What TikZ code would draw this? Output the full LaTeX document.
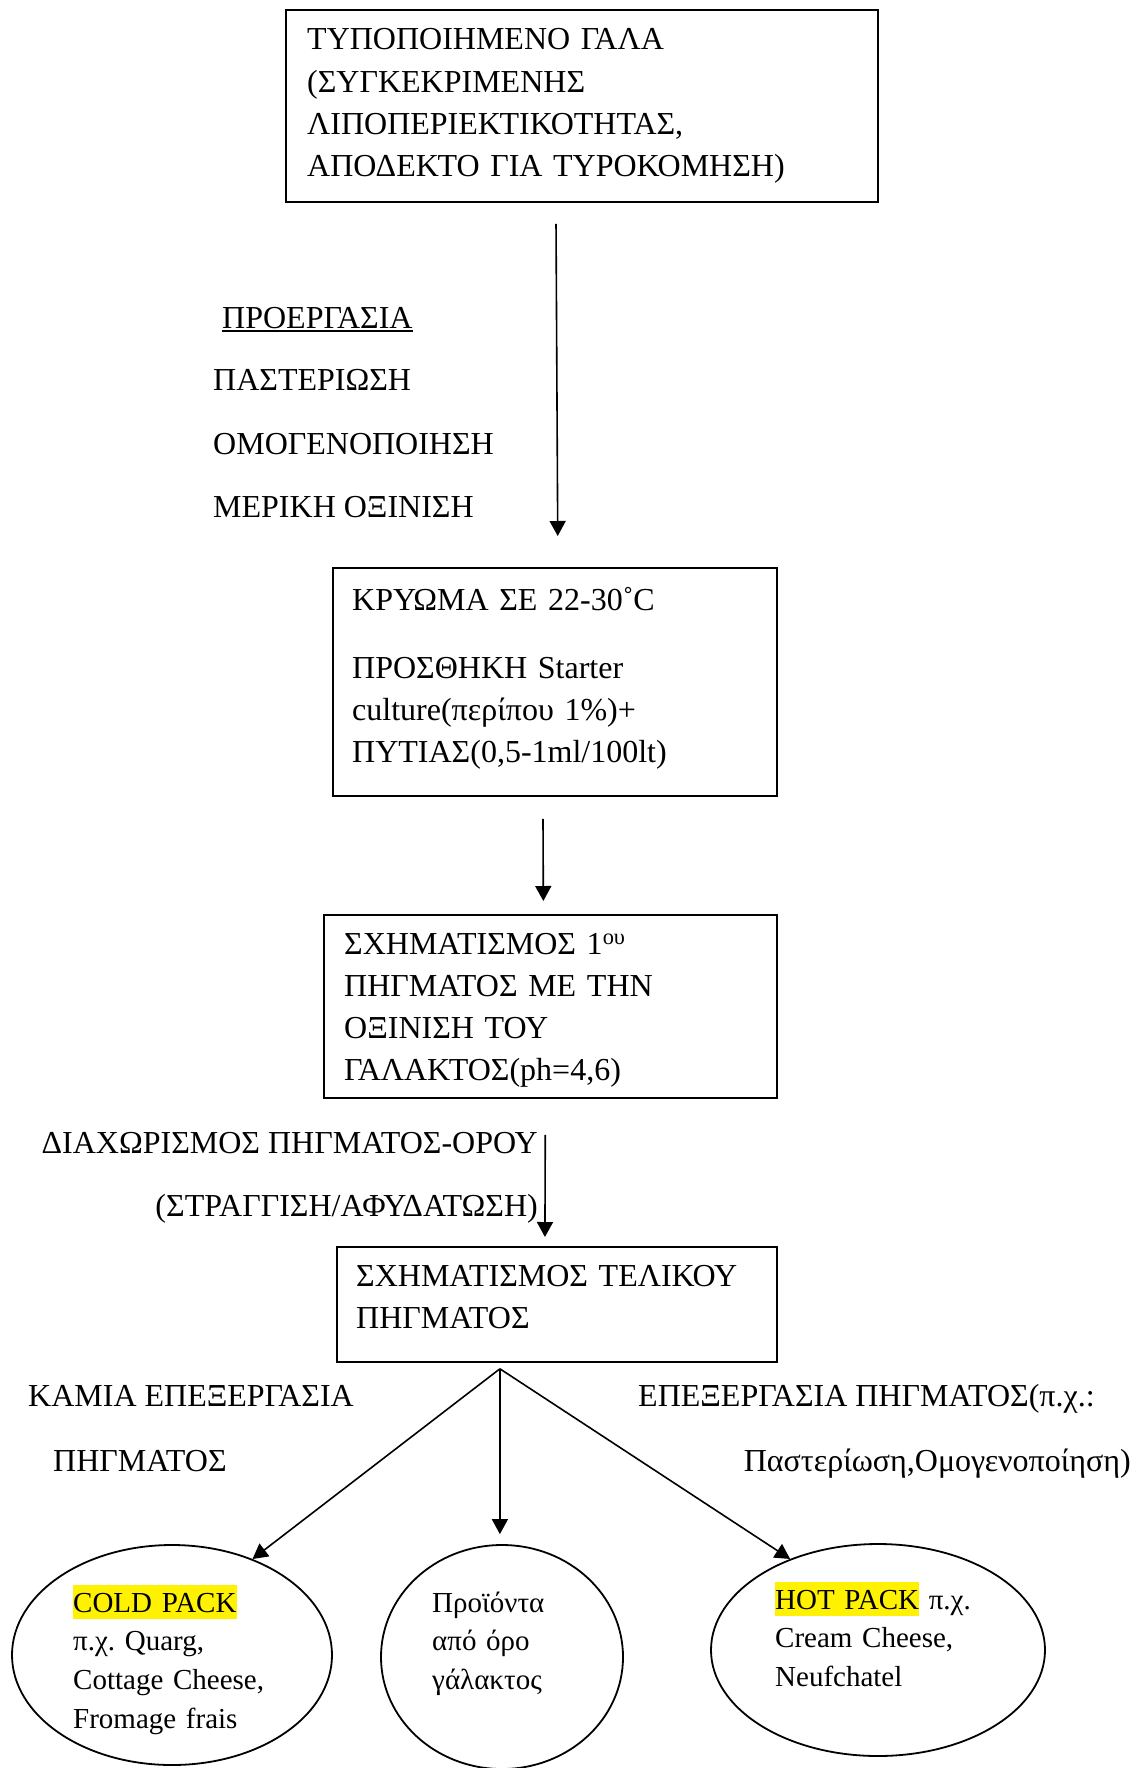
\documentclass[tikz,border=0pt]{standalone}
\usepackage{fontspec}
\setmainfont{Liberation Serif}
\frenchspacing
\usetikzlibrary{shapes,arrows.meta}
\tikzstyle{arrow} = [line width=1.6pt,-{Triangle[length=15pt,width=16pt]}]
\tikzstyle{stage} = [draw, line width=1.8pt, rectangle, anchor=north west, inner sep=0pt]
\tikzstyle{oval} = [draw, line width=1.8pt, ellipse, inner sep=0pt]
\tikzstyle{note} = [inner sep=0pt, anchor=base west, align=left]
\tikzstyle{inoval} = [inner sep=0pt, anchor=base west, align=left, font=\fontsize{29}{38.8}\selectfont]
\newcommand{\hilite}[1]{{\setlength{\fboxsep}{0pt}\colorbox{yellow}{\rule[-7pt]{0pt}{34pt}#1}}}

\begin{document}
\begin{tikzpicture}[x=1pt, y=-1pt, font=\fontsize{32}{42.3}\selectfont]
    \useasboundingbox (0,0) rectangle (1138,1768);
    \node[stage, minimum width=592pt, minimum height=192pt] (milk) at (285,9) {};
    \node[note, text width=560pt] (milktxt) at (307,50)
        {ΤΥΠΟΠΟΙΗΜΕΝΟ ΓΑΛΑ\\(ΣΥΓΚΕΚΡΙΜΕΝΗΣ\\ΛΙΠΟΠΕΡΙΕΚΤΙΚΟΤΗΤΑΣ,\\ΑΠΟΔΕΚΤΟ ΓΙΑ ΤΥΡΟΚΟΜΗΣΗ)};
    \node[stage, minimum width=444pt, minimum height=228pt] (rennet) at (332,567) {};
    \node[note, text width=420pt] (rennettxt) at (352,610)
        {ΚΡΥΩΜΑ ΣΕ 22-30˚C\\[25.7pt]ΠΡΟΣΘΗΚΗ Starter\\culture(περίπου 1\%)+\\ΠΥΤΙΑΣ(0,5-1ml/100lt)};
    \node[stage, minimum width=453pt, minimum height=183pt] (curd) at (323,914) {};
    \node[note, text width=430pt] (curdtxt) at (344,954)
        {ΣΧΗΜΑΤΙΣΜΟΣ 1\textsuperscript{ου}\\ΠΗΓΜΑΤΟΣ ΜΕ ΤΗΝ\\ΟΞΙΝΙΣΗ ΤΟΥ\\ΓΑΛΑΚΤΟΣ(ph=4,6)};
    \node[stage, minimum width=440pt, minimum height=115pt] (final) at (336,1246) {};
    \node[note, text width=415pt] (finaltxt) at (356,1286)
        {ΣΧΗΜΑΤΙΣΜΟΣ ΤΕΛΙΚΟΥ\\ΠΗΓΜΑΤΟΣ};

    \node[note] (prep) at (222,328) {ΠΡΟΕΡΓΑΣΙΑ};
    \draw[line width=1.4pt] ([yshift=-3pt]prep.base west) -- ([yshift=-3pt]prep.base east);
    \node[note] (past) at (213,390) {ΠΑΣΤΕΡΙΩΣΗ};
    \node[note] (homog) at (213,454) {ΟΜΟΓΕΝΟΠΟΙΗΣΗ};
    \node[note] (acid) at (213,517) {ΜΕΡΙΚΗ ΟΞΙΝΙΣΗ};
    \draw[arrow, shorten <=21pt, shorten >=31pt] ([xshift=1pt]milk.south -| rennet.north) -- ([xshift=3pt]rennet.north);

    \draw[arrow, shorten <=22pt, shorten >=13pt] ([xshift=-12pt]rennet.south) -- ([xshift=-7pt]curd.north);

    \node[note, anchor=base east] (sep) at (538,1153) {ΔΙΑΧΩΡΙΣΜΟΣ ΠΗΓΜΑΤΟΣ-ΟΡΟΥ};
    \node[note, anchor=base east] (drain) at (538,1216) {(ΣΤΡΑΓΓΙΣΗ/ΑΦΥΔΑΤΩΣΗ)};
    \draw[arrow, shorten <=36pt, shorten >=9pt] ([xshift=-5pt]curd.south) -- ([xshift=-12pt]final.north);

    \node[note] (none1) at (28,1406) {ΚΑΜΙΑ ΕΠΕΞΕΡΓΑΣΙΑ};
    \node[note] (none2) at (53,1471) {ΠΗΓΜΑΤΟΣ};
    \node[note] (treat1) at (638,1406) {ΕΠΕΞΕΡΓΑΣΙΑ ΠΗΓΜΑΤΟΣ(π.χ.:};
    \node[note, anchor=base east] (treat2) at (1131,1471) {Παστερίωση,Ομογενοποίηση)};

    \node[oval, minimum width=320pt, minimum height=220pt] (cold) at (172,1655) {};
    \node[oval, minimum width=242pt, minimum height=224pt] (whey) at (502,1657) {};
    \node[oval, minimum width=334pt, minimum height=212pt] (hot) at (878,1650) {};
    \node[inoval, text width=240pt] (coldtxt) at (73,1612)
        {\hilite{COLD PACK}\\π.χ. Quarg,\\Cottage Cheese,\\Fromage frais};
    \node[inoval, text width=180pt] (wheytxt) at (432,1612)
        {Προϊόντα\\από όρο\\γάλακτος};
    \node[inoval, text width=250pt] (hottxt) at (775,1609)
        {\hilite{HOT PACK} π.χ.\\Cream Cheese,\\Neufchatel};

    \coordinate (split) at ([xshift=-57pt,yshift=-6pt]final.south);
    \draw[arrow] (split) -- (cold.50);
    \draw[arrow, shorten >=10pt] (split) -- (split |- whey.north);
    \draw[arrow] (split) -- (hot.134);
\end{tikzpicture}
\end{document}
